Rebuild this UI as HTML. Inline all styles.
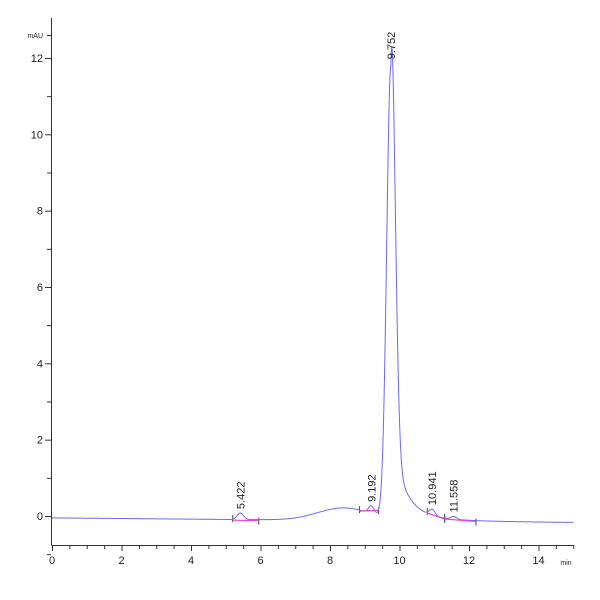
<!DOCTYPE html>
<html><head><meta charset="utf-8">
<style>
html,body{margin:0;padding:0;background:#fff;}
svg{display:block;font-family:"Liberation Sans",sans-serif;}
</style></head>
<body>
<svg id="s" width="600" height="600" viewBox="0 0 600 600">
<rect width="600" height="600" fill="#fff"/>
<g id="axes" stroke="#333" stroke-width="1" fill="none"></g>
<g id="lab" font-size="11" fill="#222"></g>
<path id="sig" fill="none" stroke="#6a6af0" stroke-width="1"/>
<g id="base" stroke="#ee44cc" stroke-width="1.2" fill="none"></g>
<g id="pk" font-size="11" fill="#222"></g>
</svg>
<script>
var X0=52,PX=34.75,Y0=516,PY=38.17;
function X(t){return X0+t*PX}
function Y(v){return Y0-v*PY}
var ax=document.getElementById('axes'),lab=document.getElementById('lab');
var ns='http://www.w3.org/2000/svg';
function el(p,n,a,txt){var e=document.createElementNS(ns,n);for(var k in a)e.setAttribute(k,a[k]);if(txt)e.textContent=txt;p.appendChild(e);return e;}
el(ax,'line',{x1:51.5,y1:18,x2:51.5,y2:545.5});
el(ax,'line',{x1:51.5,y1:545.5,x2:574,y2:545.5});
for(var i=0;i<=30;i++){var x=X(i*0.5)+0.5;el(ax,'line',{x1:x,y1:545,x2:x,y2:i%4==0?551:549});}
for(var i=0;i<=7;i++){el(lab,'text',{x:X(i*2),y:564,'text-anchor':'middle'},String(i*2));}
el(lab,'text',{x:566,y:565,'font-size':'7','text-anchor':'middle'},'min');
for(var v=-1;v<=12.5;v+=1){var y=Y(v)+0.5;el(ax,'line',{x1:v%2==0?45:47,y1:y,x2:51,y2:y});}
for(var v=0;v<=12;v+=2){el(lab,'text',{x:43,y:Y(v)+4,'text-anchor':'end'},String(v));}
el(lab,'text',{x:43,y:38,'text-anchor':'end','font-size':'7'},'mAU');
el(ax,'line',{x1:47,y1:35.5,x2:51,y2:35.5});
function g(t,c,s){return Math.exp(-0.5*Math.pow((t-c)/s,2))}
function f(t){
 var v=-0.05-0.008*t;
 v+=0.33*g(t,8.4,0.75);
 v+=0.17*g(t,5.42,0.09)+0.2*g(t,9.19,0.08)+0.16*g(t,10.94,0.08)+0.07*g(t,11.56,0.08);
 v+=11.85*g(t,9.752,0.12);
 if(t>9.75){var d=t-9.75;v+=(1-Math.exp(-d/0.06))*(2*Math.exp(-d/0.35)+0.3*Math.exp(-d/1));}
 return v;}
var d='';for(var t=0;t<=15;t+=0.01){d+=(t==0?'M':'L')+X(t).toFixed(2)+','+Y(f(t)).toFixed(2);}
document.getElementById('sig').setAttribute('d',d);
var b=document.getElementById('base');
[[5.2,5.95],[8.85,9.4],[10.8,11.3],[11.3,12.2]].forEach(function(s){
 el(b,'line',{x1:X(s[0]),y1:Y(f(s[0]))+1,x2:X(s[1]),y2:Y(f(s[1]))+1});
 el(ax,'line',{x1:X(s[0]),y1:Y(f(s[0]))-4,x2:X(s[0]),y2:Y(f(s[0]))+3,stroke:'#444'});
 el(ax,'line',{x1:X(s[1]),y1:Y(f(s[1]))-2,x2:X(s[1]),y2:Y(f(s[1]))+5,stroke:'#444'});
});
var pk=document.getElementById('pk');
[[5.422,'5.422'],[9.192,'9.192'],[9.752,'9.752'],[10.941,'10.941'],[11.558,'11.558']].forEach(function(p){
 var x=X(p[0])+4,y=Y(f(p[0]))-4;
 el(pk,'text',{x:0,y:0,transform:'translate('+x+','+y+') rotate(-90)'},p[1]);
});
</script>
</body></html>
